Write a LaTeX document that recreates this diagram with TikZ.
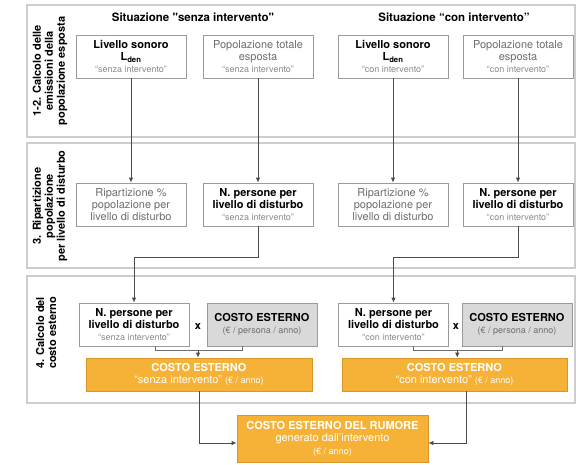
\documentclass[tikz,border=0pt]{standalone}
\usepackage{fontspec}
\setmainfont{TeX Gyre Heros}
\usetikzlibrary{calc}
\usetikzlibrary{arrows.meta}

\definecolor{framegray}{HTML}{CDCDCD}
\definecolor{boxgray}{HTML}{9A9A9A}
\definecolor{costgray}{HTML}{D9D9D9}
\definecolor{costorange}{HTML}{F6B237}
\definecolor{orangeedge}{HTML}{D8962A}
\definecolor{textgray}{HTML}{6E6E6E}
\definecolor{notegray}{HTML}{8A8A8A}
\definecolor{linkgray}{HTML}{4A4A4A}

\newcommand{\smallnote}[1]{{\fontsize{9}{11}\selectfont #1}}

\tikzset{
  framebox/.style={draw=framegray, line width=1.4pt},
  steplabel/.style={rotate=90, align=center, font=\bfseries\fontsize{11}{12}\selectfont},
  heading/.style={font=\bfseries\fontsize{11.5}{13}\selectfont},
  whitebox/.style={draw=boxgray, fill=white, line width=0.8pt, minimum width=110pt,
    minimum height=43pt, align=center, inner sep=1pt, font=\fontsize{11}{12}\selectfont},
  graybox/.style={whitebox, fill=costgray},
  orangebox/.style={draw=orangeedge, fill=costorange, text=white, line width=0.8pt,
    align=center, minimum height=33pt, inner sep=1pt, font=\fontsize{11}{12.5}\selectfont},
  link/.style={draw=linkgray!80, line width=0.8pt},
  arrow/.style={draw=linkgray, line width=0.8pt, -{Latex[length=5pt,width=4.5pt]}},
}

\begin{document}
\begin{tikzpicture}[x=1pt,y=-1pt]
            \useasboundingbox (0,0) rectangle (576,464);

            % Frames
            \draw[framebox] (27,5) rectangle (575,137);
            \draw[framebox] (27,143) rectangle (575,268);
            \draw[framebox] (27,276) rectangle (575,403);

            % Step labels
            \node[steplabel] (stepEmis) at (50,71) {1-2. Calcolo delle\\emissioni della\\popolazione esposta};
            \node[steplabel] (stepRip) at (50,206) {3. Ripartizione\\popolazione\\per livello di disturbo};
            \node[steplabel] (stepCost) at (46,333) {4. Calcolo del\\costo esterno};

            % Headings
            \node[heading] (senzaHead) at (193,17) {Situazione \textquotedbl senza intervento\textquotedbl};
            \node[heading] (conHead) at (454,17) {Situazione “con intervento”};

            % Emissions
            \node[whitebox] (senzaLden) at (131,56.5) {\textbf{Livello sonoro}\\\textbf{L\textsubscript{den}}\\{\color{notegray}\smallnote{“senza intervento”}}};
            \node[whitebox, text=textgray] (senzaPop) at (258,56.5) {Popolazione totale\\esposta\\{\color{notegray}\smallnote{“senza intervento”}}};
            \node[whitebox] (conLden) at (393,56.5) {\textbf{Livello sonoro}\\\textbf{L\textsubscript{den}}\\{\color{notegray}\smallnote{“con intervento”}}};
            \node[whitebox, text=textgray] (conPop) at (518,56.5) {Popolazione totale\\esposta\\{\color{notegray}\smallnote{“con intervento”}}};

            % Distribution
            \node[whitebox, text=textgray] (senzaRip) at (131,204.5) {Ripartizione \%\\popolazione per\\livello di disturbo};
            \node[whitebox] (senzaPers) at (258,204.5) {\textbf{N. persone per}\\\textbf{livello di disturbo}\\{\color{notegray}\smallnote{“senza intervento”}}};
            \node[whitebox, text=textgray] (conRip) at (393,204.5) {Ripartizione \%\\popolazione per\\livello di disturbo};
            \node[whitebox] (conPers) at (518,204.5) {\textbf{N. persone per}\\\textbf{livello di disturbo}\\{\color{notegray}\smallnote{“con intervento”}}};

            % External cost
            \node[whitebox] (senzaPersCost) at (134,324.5) {\textbf{N. persone per}\\\textbf{livello di disturbo}\\{\color{notegray}\smallnote{“senza intervento”}}};
            \node[graybox] (senzaUnit) at (262,324.5) {\textbf{COSTO ESTERNO}\\{\color{textgray}\smallnote{(€ / persona / anno)}}};
            \node[font=\bfseries\fontsize{11}{12}\selectfont] (senzaTimes) at (198,327) {x};
            \node[whitebox] (conPersCost) at (393.5,324.5) {\textbf{N. persone per}\\\textbf{livello di disturbo}\\{\color{notegray}\smallnote{“con intervento”}}};
            \node[graybox] (conUnit) at (517,324.5) {\textbf{COSTO ESTERNO}\\{\color{textgray}\smallnote{(€ / persona / anno)}}};
            \node[font=\bfseries\fontsize{11}{12}\selectfont] (conTimes) at (456,327) {x};

            \node[orangebox, minimum width=226pt] (senzaCost) at (199,374.5) {\textbf{COSTO ESTERNO}\\“senza intervento” \smallnote{(€ / anno)}};
            \node[orangebox, minimum width=225pt] (conCost) at (454.5,374.5) {\textbf{COSTO ESTERNO}\\“con intervento” \smallnote{(€ / anno)}};
            \node[orangebox, minimum width=191pt, minimum height=47pt] (rumore) at (332.5,438.5) {\textbf{COSTO ESTERNO DEL RUMORE}\\generato dall’intervento\\\smallnote{(€ / anno)}};

            % Arrows
            \draw[arrow] (senzaLden) -- (senzaRip);
            \draw[arrow] (senzaPop) -- (senzaPers);
            \draw[arrow] (conLden) -- (conRip);
            \draw[arrow] (conPop) -- (conPers);
            \draw[arrow] (senzaPers.south) -- ++(0,31) -| (senzaPersCost.north);
            \draw[arrow] (conPers.south) -- ++(0,31) -| (conPersCost.north);

            % Product brackets
            \draw[link] ([xshift=21pt]senzaPersCost.south) -- ++(0,4) -| ([xshift=-20pt]senzaUnit.south);
            \coordinate (senzaJoin) at ($(senzaPersCost.south)!0.5!(senzaUnit.south)+(0,4)$);
            \draw[arrow] (senzaJoin) -- (senzaJoin |- senzaCost.north);
            \draw[link] ([xshift=20pt]conPersCost.south) -- ++(0,4) -| ([xshift=-15pt]conUnit.south);
            \coordinate (conJoin) at ($(conPersCost.south)!0.5!(conUnit.south)+(2,4)$);
            \draw[arrow] (conJoin) -- (conJoin |- conCost.north);

            % Difference
            \draw[arrow] (senzaCost.south) |- ([yshift=-4.5pt]rumore.west);
            \draw[arrow] ([xshift=12pt]conCost.south) |- ([yshift=-4.5pt]rumore.east);
        \end{tikzpicture}
\end{document}
